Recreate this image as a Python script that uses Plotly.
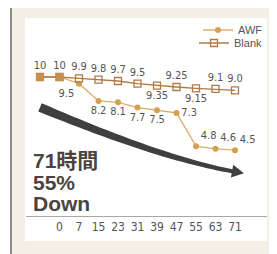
import numpy as np
import plotly.graph_objects as go

W, H = 277, 254
OFF = 8  # page body margin in the browser

# ---------------- data ----------------
hours = ["", "0", "7", "15", "23", "31", "39", "47", "55", "63", "71"]
awf = [10, 10, 9.5, 8.2, 8.1, 7.7, 7.5, 7.3, 4.8, 4.6, 4.5]
blank = [10, 10, 9.9, 9.8, 9.7, 9.5, 9.35, 9.25, 9.15, 9.1, 9.0]
awf_labels = ["", "", "9.5", "8.2", "8.1", "7.7", "7.5", "7.3", "4.8", "4.6", "4.5"]
blank_labels = ["10", "10", "9.9", "9.8", "9.7", "9.5", "9.35", "9.25", "9.15", "9.1", "9.0"]
idx = list(range(len(hours)))

# arrow guide (data units: category index, value)
arrow_ctrl_x = [0.0, 2.8, 6.7, 9.85]
arrow_ctrl_y = [7.72, 6.0, 3.76, 2.92]

# ---------------- layout geometry (screen pixels) ----------------
X_L, X_R = 26, 267          # axis line extent
Y_T, Y_B = 18, 216          # plot area top / axis line
X0_PX, DX_PX = 40, 19.5     # pixel of index 0, spacing
V10_PX, DV_PX = 77, 13.3    # pixel of value 10, px per unit

xr = [(X_L - X0_PX) / DX_PX, (X_R - X0_PX) / DX_PX]
yr = [10 - (Y_B - V10_PX) / DV_PX, 10 + (V10_PX - Y_T) / DV_PX]


def px(x):
    return (x - OFF) / W


def py(y):
    return 1 - (y - OFF) / H


def to_pix(i, v):
    return X0_PX + DX_PX * i, V10_PX + DV_PX * (10 - v)


AWF_C = "#d4a150"
AWF_LINE = "#dcae6c"
BLK_C = "#b07a45"
TXT = "#555555"
NARROW = "Liberation Sans Narrow, Arial Narrow, DejaVu Sans Condensed, sans-serif"
LBL_FONT = dict(family=NARROW, size=11, color=TXT)

fig = go.Figure()

fig.add_trace(go.Scatter(
    x=idx, y=awf, name="AWF", mode="lines+markers+text",
    line=dict(color=AWF_LINE, width=1.3),
    marker=dict(symbol="circle", size=6, color=AWF_C),
    text=awf_labels,
    textposition=["top center", "top center", "bottom left", "bottom center", "bottom center",
                  "bottom center", "bottom center", "middle right", "top right", "top right",
                  "top right"],
    textfont=LBL_FONT, legend="legend", cliponaxis=False,
))
fig.add_trace(go.Scatter(
    x=idx, y=blank, name="Blank", mode="lines+markers+text",
    line=dict(color=BLK_C, width=1.3),
    marker=dict(symbol="square-open", size=7, color=BLK_C, line=dict(width=1.3)),
    text=blank_labels,
    textposition=["top center"] * 6 + ["bottom center", "top center", "bottom center",
                                       "top center", "top center"],
    textfont=LBL_FONT, legend="legend2", cliponaxis=False,
))
fig.add_trace(go.Scatter(
    x=idx[:2], y=blank[:2], mode="markers", showlegend=False,
    marker=dict(symbol="square", size=8, color="#c68f4e"),
    cliponaxis=False,
))

# ---------------- frame shapes ----------------
shapes = [
    dict(type="rect", xref="paper", yref="paper", x0=px(11), x1=px(W + OFF), y0=py(H + OFF), y1=py(7),
         fillcolor="#f4efe6", line=dict(width=0), layer="below"),
    dict(type="rect", xref="paper", yref="paper", x0=px(25), x1=px(267), y0=py(241), y1=py(18),
         fillcolor="#ffffff", line=dict(width=0), layer="below"),
    dict(type="line", xref="paper", yref="paper", x0=px(10), x1=px(W + OFF), y0=py(7), y1=py(7),
         line=dict(color="#8b8d88", width=2), layer="below"),
    dict(type="line", xref="paper", yref="paper", x0=px(11), x1=px(11), y0=py(6), y1=py(H + OFF),
         line=dict(color="#8b8d88", width=2), layer="below"),
]

# ---------------- tapered arrow ----------------
P = np.array([to_pix(i, v) for i, v in zip(arrow_ctrl_x, arrow_ctrl_y)])
t = np.linspace(0, 1, 40)[:, None]
B = ((1 - t) ** 3) * P[0] + 3 * ((1 - t) ** 2) * t * P[1] + 3 * (1 - t) * (t ** 2) * P[2] + (t ** 3) * P[3]
D = 3 * ((1 - t) ** 2) * (P[1] - P[0]) + 6 * (1 - t) * t * (P[2] - P[1]) + 3 * (t ** 2) * (P[3] - P[2])
D = D / np.linalg.norm(D, axis=1)[:, None]
N = np.stack([-D[:, 1], D[:, 0]], axis=1)
wid = (9.0 + (4.0 - 9.0) * t[:, 0])[:, None] / 2
upper = B + N * wid
lower = B - N * wid
d_end = D[-1]
n_end = N[-1]
base = B[-1]
head_l = base + n_end * 6.5
head_r = base - n_end * 6.5
tip = base + d_end * 12
pts = list(upper) + [head_l, tip, head_r] + list(lower[::-1])
path = "M " + " L ".join(f"{px(x):.5f},{py(y):.5f}" for x, y in pts) + " Z"
shapes.append(dict(type="path", xref="paper", yref="paper", path=path,
                   fillcolor="#3f3f3f", line=dict(width=0), layer="below"))

# ---------------- annotations ----------------
BIG = dict(family="Liberation Sans, Arial, Noto Sans CJK JP, sans-serif", size=21, color="#4a4440")
annotations = []
for txt, yy in [("<b>71時間</b>", 160), ("<b>55%</b>", 182), ("<b>Down</b>", 203)]:
    annotations.append(dict(text=txt, xref="paper", yref="paper", x=px(31), y=py(yy),
                            xanchor="left", yanchor="middle", showarrow=False, font=BIG))

fig.update_layout(
    width=W, height=H, margin=dict(l=0, r=0, t=0, b=0),
    paper_bgcolor="#ffffff", plot_bgcolor="rgba(0,0,0,0)",
    xaxis=dict(domain=[px(X_L), px(X_R)], range=xr, tickvals=idx, ticktext=hours,
               showline=True, linecolor="#a8a8a8", linewidth=1, ticks="", showgrid=False,
               zeroline=False, tickfont=dict(family=NARROW, size=12, color=TXT), fixedrange=True),
    yaxis=dict(domain=[py(Y_B), py(Y_T)], range=yr, visible=False, fixedrange=True),
    shapes=shapes, annotations=annotations,
    legend=dict(x=px(268), xanchor="right", y=py(30), yanchor="middle",
                bgcolor="rgba(0,0,0,0)", font=dict(family="Liberation Sans, Arial, sans-serif", size=11, color=TXT),
                itemwidth=30, borderwidth=0),
    legend2=dict(x=px(268), xanchor="right", y=py(43), yanchor="middle",
                 bgcolor="rgba(0,0,0,0)", font=dict(family="Liberation Sans, Arial, sans-serif", size=11, color=TXT),
                 itemwidth=30, borderwidth=0),
)

fig.write_html("out.html")
